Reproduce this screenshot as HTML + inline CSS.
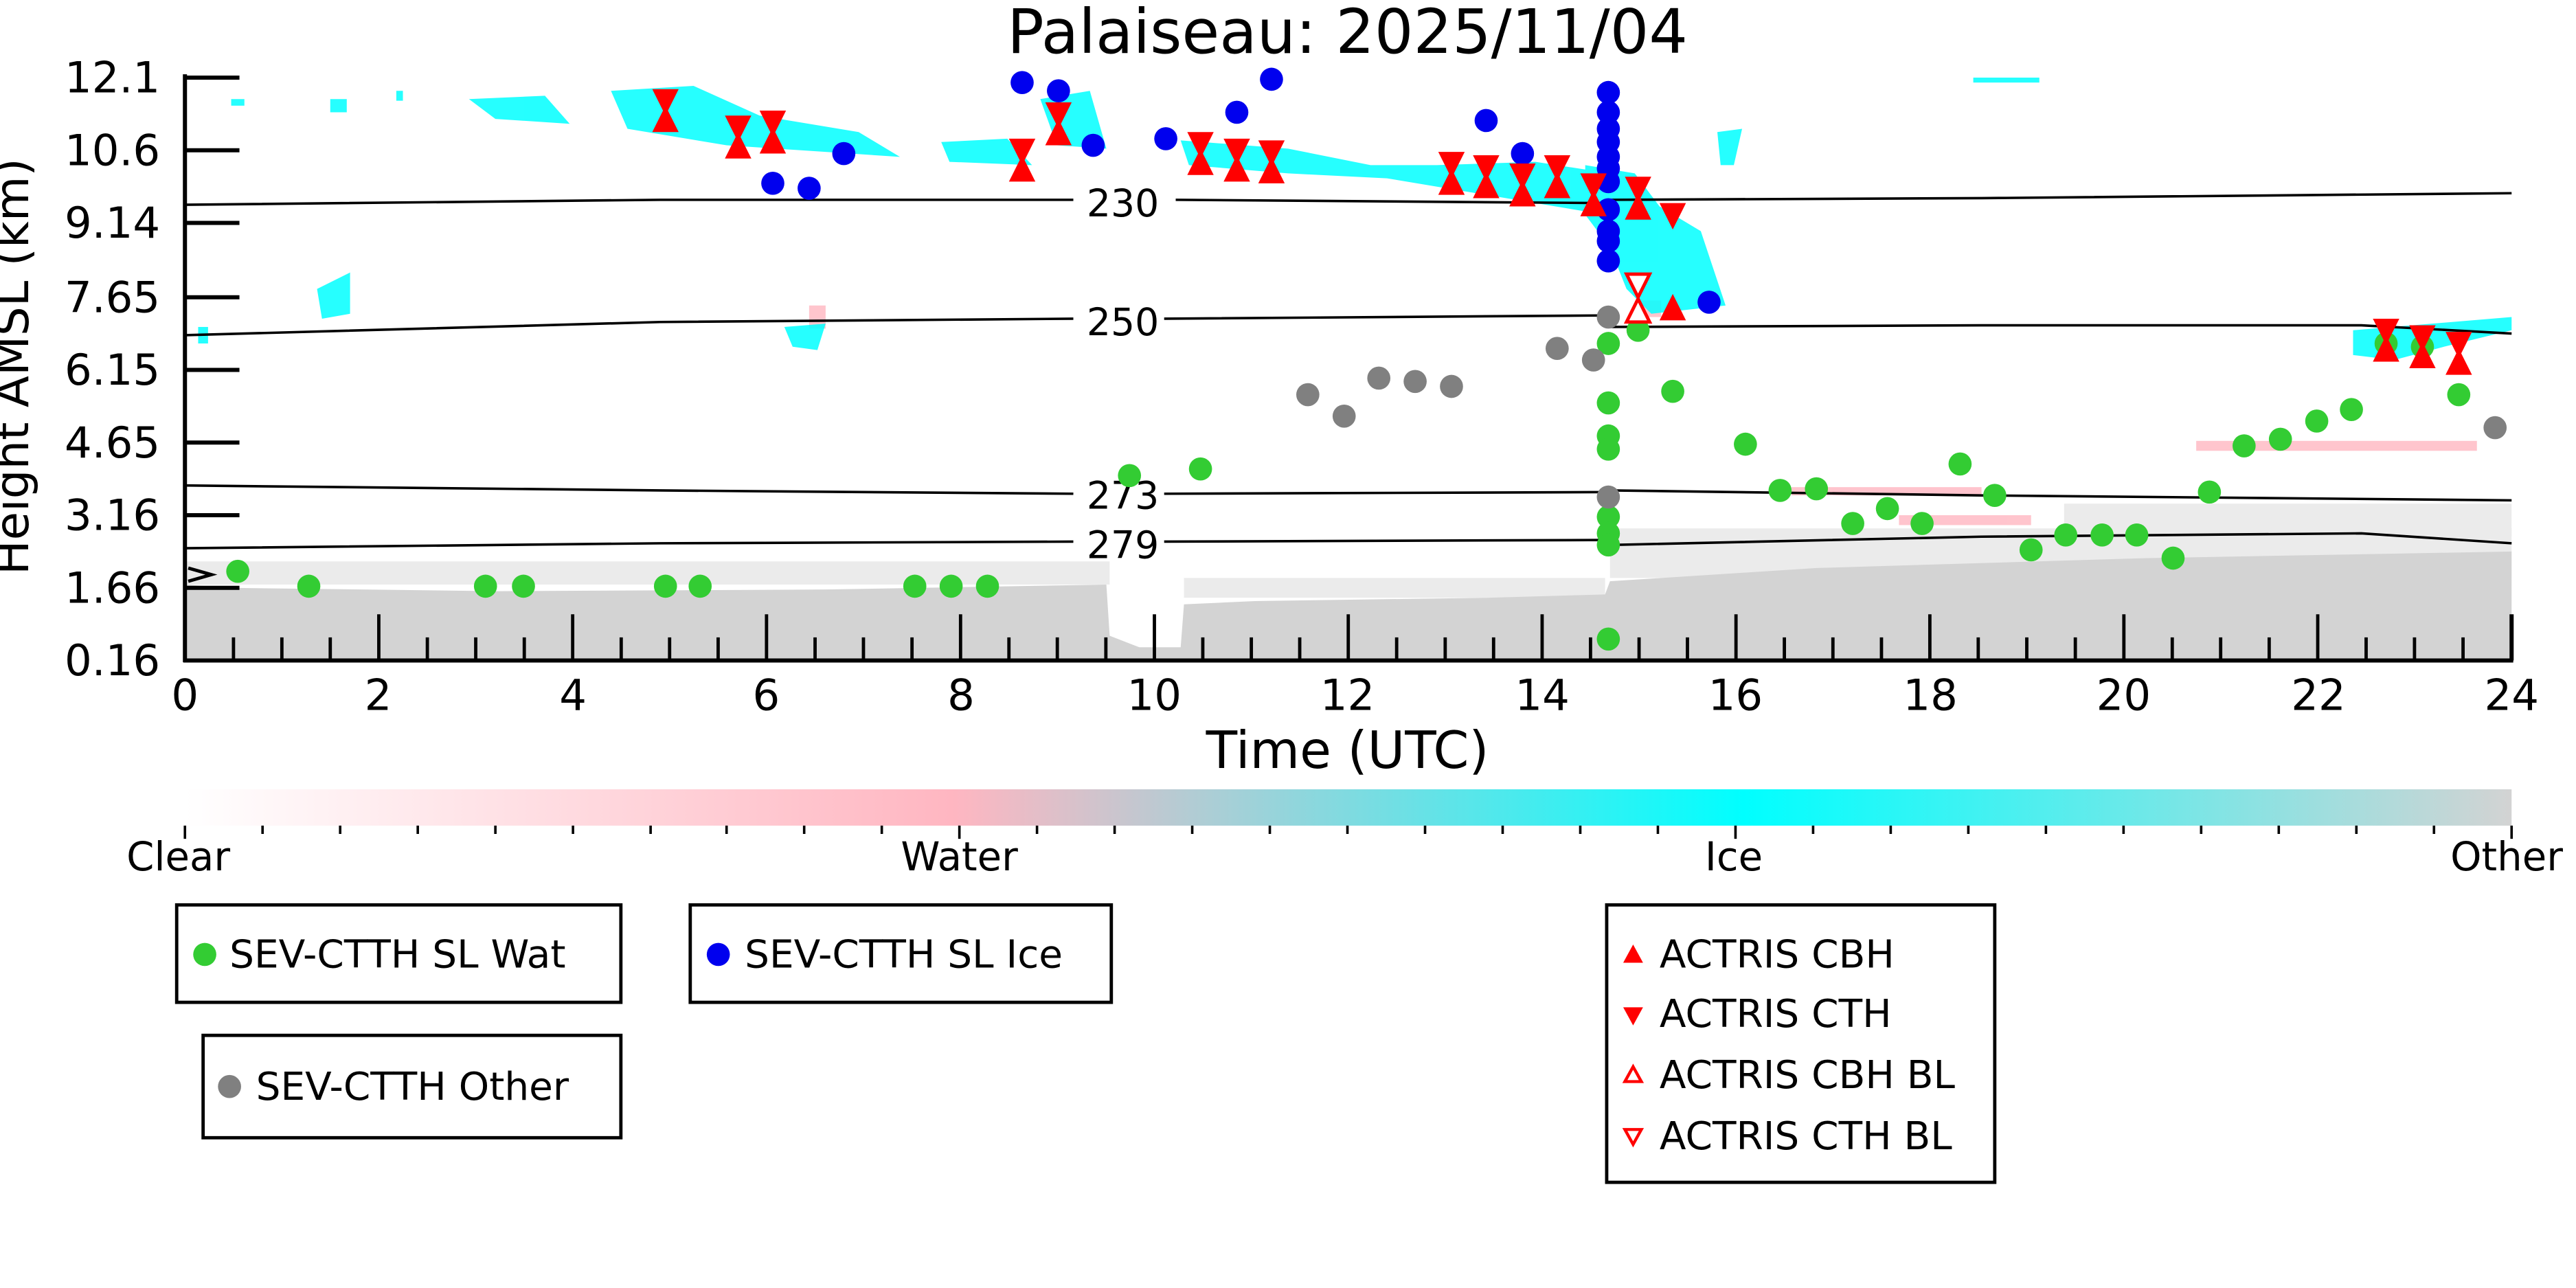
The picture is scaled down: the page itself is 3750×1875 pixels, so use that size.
<!DOCTYPE html>
<html><head><meta charset="utf-8"><style>
html,body{margin:0;padding:0;background:#fff}
svg{display:block}
text{font-family:"DejaVu Sans","Liberation Sans",sans-serif}
</style></head><body>
<svg width="3750" height="1875" viewBox="0 0 1560 780" xmlns="http://www.w3.org/2000/svg">
<defs>
<linearGradient id="cb" x1="0" x2="1" y1="0" y2="0">
<stop offset="0" stop-color="#ffffff"/>
<stop offset="0.33" stop-color="#ffb6c1"/>
<stop offset="0.67" stop-color="#00ffff"/>
<stop offset="1" stop-color="#d3d3d3"/>
</linearGradient>
<g id="tu"><polygon points="-8,7 8,7 0,-9" fill="red"/></g>
<g id="td"><polygon points="-8,-7 8,-7 0,9" fill="red"/></g>
</defs>
<rect width="1560" height="780" fill="#fff"/>
<text x="816" y="32" font-size="37" text-anchor="middle">Palaiseau: 2025/11/04</text>

<g fill="#d3d3d3" opacity="0.45">
<rect x="112" y="340" width="560" height="14"/>
<rect x="717" y="350" width="255" height="12"/>
<rect x="975" y="320" width="546" height="30"/>
<rect x="1250" y="305" width="271" height="20"/>
</g>
<polygon fill="#d3d3d3" points="112,400 112,354 140,356 300,358 500,357 670,354 672,385 690,392 715,392 717,366 760,364 900,362 972,360 975,352 1100,344 1300,338 1521,334 1521,400"/>
<g fill="#ffb6c1" opacity="0.8">
<rect x="1085" y="295" width="115" height="5"/>
<rect x="1150" y="312" width="80" height="6"/>
<rect x="1330" y="267" width="170" height="6"/>
<rect x="490" y="185" width="10" height="14"/>
<rect x="990" y="182" width="16" height="10"/>
</g>
<g fill="#00ffff" opacity="0.85">
<polygon points="284,60 330,58 345,75 300,72"/>
<polygon points="370,55 420,52 460,70 520,80 545,95 500,92 440,88 380,78"/>
<polygon points="570,86 610,84 625,100 575,98"/>
<polygon points="630,60 660,55 670,90 640,88"/>
<polygon points="715,85 780,90 830,100 870,100 930,98 975,105 985,120 960,128 900,118 840,108 780,105 720,100"/>
<polygon points="960,100 990,105 1005,125 1030,140 1040,170 1045,185 1000,190 985,175 975,150 960,130"/>
<polygon points="1425,200 1521,192 1521,200 1480,210 1450,218 1425,215"/>
<polygon points="192,175 212,165 212,190 195,193"/>
<polygon points="475,198 500,196 495,212 480,210"/>
<polygon points="1040,80 1055,78 1050,100 1042,100"/>
<rect x="140" y="60" width="8" height="4"/><rect x="200" y="60" width="10" height="8"/>
<rect x="240" y="55" width="4" height="6"/><rect x="120" y="198" width="6" height="10"/>
<rect x="1195" y="47" width="40" height="3"/>
</g>

<g fill="none" stroke="#000" stroke-width="1.5">
<polyline points="112,124 400,121 650,121"/><polyline points="712,121 974,123 975,121 1200,120 1521,117"/>
<polyline points="112,203 400,195 650,193"/><polyline points="705,193 974,191 976,198 1200,197 1430,197 1521,202"/>
<polyline points="112,294 400,297 650,299"/><polyline points="705,299 974,298 976,297 1200,300 1521,303"/>
<polyline points="112,332 400,329 650,328"/><polyline points="705,328 974,327 976,330 1200,325 1430,323 1521,329"/>
</g>
<g font-size="23" text-anchor="middle">
<text x="680" y="131">230</text><text x="680" y="203">250</text>
<text x="680" y="308">273</text><text x="680" y="338">279</text>
</g>

<g stroke="#000" stroke-width="2.5" fill="none">
<line x1="112" y1="45" x2="112" y2="401"/>
<line x1="111" y1="400" x2="1522" y2="400"/>
<line x1="1521" y1="372" x2="1521" y2="400"/>
</g>
<g stroke="#000" stroke-width="2.5">
<line x1="112" y1="47" x2="145" y2="47"/><line x1="112" y1="91" x2="145" y2="91"/>
<line x1="112" y1="135" x2="145" y2="135"/><line x1="112" y1="180" x2="145" y2="180"/>
<line x1="112" y1="224" x2="145" y2="224"/><line x1="112" y1="268" x2="145" y2="268"/>
<line x1="112" y1="312" x2="145" y2="312"/><line x1="112" y1="356" x2="145" y2="356"/>
</g>
<path d="M114,344 L128,348 L114,352" stroke="#000" stroke-width="2" fill="none"/>
<g stroke="#000" stroke-width="2">
<path d="M229.4,372v28M346.8,372v28M464.2,372v28M581.7,372v28M699.1,372v28M816.5,372v28M933.9,372v28M1051.3,372v28M1168.7,372v28M1286.2,372v28M1403.6,372v28"/>
<path d="M141.4,386v14M170.7,386v14M200,386v14M258.8,386v14M288.1,386v14M317.5,386v14M376.2,386v14M405.5,386v14M434.9,386v14M493.6,386v14M522.9,386v14M552.3,386v14M611,386v14M640.3,386v14M669.7,386v14M728.4,386v14M757.8,386v14M787.1,386v14M845.8,386v14M875.2,386v14M904.5,386v14M963.2,386v14M992.6,386v14M1021.9,386v14M1080.6,386v14M1110,386v14M1139.4,386v14M1198,386v14M1227.4,386v14M1256.8,386v14M1315.5,386v14M1344.8,386v14M1374.2,386v14M1432.9,386v14M1462.2,386v14M1491.6,386v14"/>
</g>
<g font-size="26" text-anchor="end">
<text x="97" y="56">12.1</text><text x="97" y="100">10.6</text><text x="97" y="144">9.14</text>
<text x="97" y="189">7.65</text><text x="97" y="233">6.15</text><text x="97" y="277">4.65</text>
<text x="97" y="321">3.16</text><text x="97" y="365">1.66</text><text x="97" y="409">0.16</text>
</g>
<g font-size="26" text-anchor="middle">
<text x="112" y="430">0</text><text x="229" y="430">2</text><text x="347" y="430">4</text>
<text x="464" y="430">6</text><text x="582" y="430">8</text><text x="699" y="430">10</text>
<text x="816" y="430">12</text><text x="934" y="430">14</text><text x="1051" y="430">16</text>
<text x="1169" y="430">18</text><text x="1286" y="430">20</text><text x="1404" y="430">22</text>
<text x="1521" y="430">24</text>
</g>
<text x="816" y="465" font-size="31" text-anchor="middle">Time (UTC)</text>
<text transform="translate(17,222) rotate(-90)" font-size="28" text-anchor="middle">Height AMSL (km)</text>

<g fill="#33cc33">
<circle cx="144" cy="346" r="7"/><circle cx="187" cy="355" r="7"/><circle cx="294" cy="355" r="7"/><circle cx="317" cy="355" r="7"/>
<circle cx="403" cy="355" r="7"/><circle cx="424" cy="355" r="7"/><circle cx="554" cy="355" r="7"/><circle cx="576" cy="355" r="7"/><circle cx="598" cy="355" r="7"/>
<circle cx="684" cy="288" r="7"/><circle cx="727" cy="284" r="7"/>
<circle cx="974" cy="208" r="7"/><circle cx="974" cy="244" r="7"/><circle cx="974" cy="264" r="7"/><circle cx="974" cy="272" r="7"/>
<circle cx="974" cy="313" r="7"/><circle cx="974" cy="323" r="7"/><circle cx="974" cy="330" r="7"/><circle cx="974" cy="387" r="7"/>
<circle cx="992" cy="200" r="7"/><circle cx="1013" cy="237" r="7"/><circle cx="1057" cy="269" r="7"/><circle cx="1078" cy="297" r="7"/>
<circle cx="1100" cy="296" r="7"/><circle cx="1122" cy="317" r="7"/><circle cx="1143" cy="308" r="7"/><circle cx="1164" cy="317" r="7"/>
<circle cx="1187" cy="281" r="7"/><circle cx="1208" cy="300" r="7"/><circle cx="1230" cy="333" r="7"/><circle cx="1251" cy="324" r="7"/>
<circle cx="1273" cy="324" r="7"/><circle cx="1294" cy="324" r="7"/><circle cx="1316" cy="338" r="7"/><circle cx="1338" cy="298" r="7"/>
<circle cx="1359" cy="270" r="7"/><circle cx="1381" cy="266" r="7"/><circle cx="1403" cy="255" r="7"/><circle cx="1424" cy="248" r="7"/>
<circle cx="1445" cy="208" r="7"/><circle cx="1467" cy="210" r="7"/><circle cx="1489" cy="239" r="7"/>
</g>
<g fill="#808080">
<circle cx="792" cy="239" r="7"/><circle cx="814" cy="252" r="7"/><circle cx="835" cy="229" r="7"/><circle cx="857" cy="231" r="7"/>
<circle cx="879" cy="234" r="7"/><circle cx="943" cy="211" r="7"/><circle cx="965" cy="218" r="7"/><circle cx="974" cy="192" r="7"/>
<circle cx="974" cy="301" r="7"/><circle cx="1511" cy="259" r="7"/>
</g>
<g fill="#0000ee">
<circle cx="468" cy="111" r="7"/><circle cx="490" cy="114" r="7"/><circle cx="511" cy="93" r="7"/><circle cx="619" cy="50" r="7"/>
<circle cx="641" cy="55" r="7"/><circle cx="662" cy="88" r="7"/><circle cx="706" cy="84" r="7"/><circle cx="749" cy="68" r="7"/>
<circle cx="770" cy="48" r="7"/><circle cx="900" cy="73" r="7"/><circle cx="922" cy="93" r="7"/>
<circle cx="974" cy="56" r="7"/><circle cx="974" cy="68" r="7"/><circle cx="974" cy="78" r="7"/><circle cx="974" cy="86" r="7"/>
<circle cx="974" cy="95" r="7"/><circle cx="974" cy="102" r="7"/><circle cx="974" cy="110" r="7"/><circle cx="974" cy="127" r="7"/>
<circle cx="974" cy="140" r="7"/><circle cx="974" cy="146" r="7"/><circle cx="974" cy="158" r="7"/><circle cx="1035" cy="183" r="7"/>
</g>
<g>
<use href="#tu" x="403" y="73"/><use href="#td" x="403" y="61"/>
<use href="#tu" x="447" y="89"/><use href="#td" x="447" y="77"/>
<use href="#tu" x="468" y="86"/><use href="#td" x="468" y="74"/>
<use href="#tu" x="619" y="103"/><use href="#td" x="619" y="91"/>
<use href="#tu" x="641" y="81"/><use href="#td" x="641" y="69"/>
<use href="#tu" x="727" y="99"/><use href="#td" x="727" y="87"/>
<use href="#tu" x="749" y="103"/><use href="#td" x="749" y="91"/>
<use href="#tu" x="770" y="104"/><use href="#td" x="770" y="92"/>
<use href="#tu" x="879" y="111"/><use href="#td" x="879" y="99"/>
<use href="#tu" x="900" y="113"/><use href="#td" x="900" y="101"/>
<use href="#tu" x="922" y="118"/><use href="#td" x="922" y="106"/>
<use href="#tu" x="943" y="113"/><use href="#td" x="943" y="101"/>
<use href="#tu" x="965" y="124"/><use href="#td" x="965" y="112"/>
<use href="#tu" x="992" y="126"/><use href="#td" x="992" y="114"/>
<use href="#td" x="1013" y="130"/><use href="#tu" x="1013" y="187"/>
<use href="#tu" x="1445" y="212"/><use href="#td" x="1445" y="200"/>
<use href="#tu" x="1467" y="216"/><use href="#td" x="1467" y="204"/>
<use href="#tu" x="1489" y="220"/><use href="#td" x="1489" y="208"/>
</g>
<polygon points="985,166 999,166 992,180" fill="#fff" stroke="red" stroke-width="2"/>
<polygon points="985,195 999,195 992,181" fill="#fff" stroke="red" stroke-width="2"/>

<rect x="112" y="478" width="1409" height="22" fill="url(#cb)"/>
<g stroke="#000" stroke-width="1.5">
<path d="M112,500v8M581,500v8M1051,500v8M1521,500v8"/>
<path d="M159,500v5M206,500v5M253,500v5M300,500v5M347,500v5M394,500v5M440,500v5M487,500v5M534,500v5M628,500v5M675,500v5M722,500v5M769,500v5M816,500v5M863,500v5M910,500v5M957,500v5M1004,500v5M1098,500v5M1145,500v5M1192,500v5M1239,500v5M1286,500v5M1333,500v5M1380,500v5M1427,500v5M1474,500v5"/>
</g>
<g font-size="24" text-anchor="middle">
<text x="108" y="527">Clear</text><text x="581" y="527">Water</text><text x="1050" y="527">Ice</text><text x="1518" y="527">Other</text>
</g>

<g fill="none" stroke="#000" stroke-width="2">
<rect x="107" y="548" width="269" height="59"/>
<rect x="418" y="548" width="255" height="59"/>
<rect x="123" y="627" width="253" height="62"/>
<rect x="973" y="548" width="235" height="168"/>
</g>
<g font-size="23.5">
<circle cx="124" cy="578" r="7" fill="#33cc33"/><text x="139" y="586">SEV-CTTH SL Wat</text>
<circle cx="435" cy="578" r="7" fill="#0000ee"/><text x="451" y="586">SEV-CTTH SL Ice</text>
<circle cx="139" cy="658" r="7" fill="#808080"/><text x="155" y="666">SEV-CTTH Other</text>
<polygon points="983,583 995,583 989,572" fill="red"/><text x="1005" y="586">ACTRIS CBH</text>
<polygon points="983,610 995,610 989,621" fill="red"/><text x="1005" y="622">ACTRIS CTH</text>
<polygon points="984,655 994,655 989,646" fill="#fff" stroke="red" stroke-width="1.8"/><text x="1005" y="659">ACTRIS CBH BL</text>
<polygon points="984,684 994,684 989,693" fill="#fff" stroke="red" stroke-width="1.8"/><text x="1005" y="696">ACTRIS CTH BL</text>
</g>
</svg>
</body></html>
